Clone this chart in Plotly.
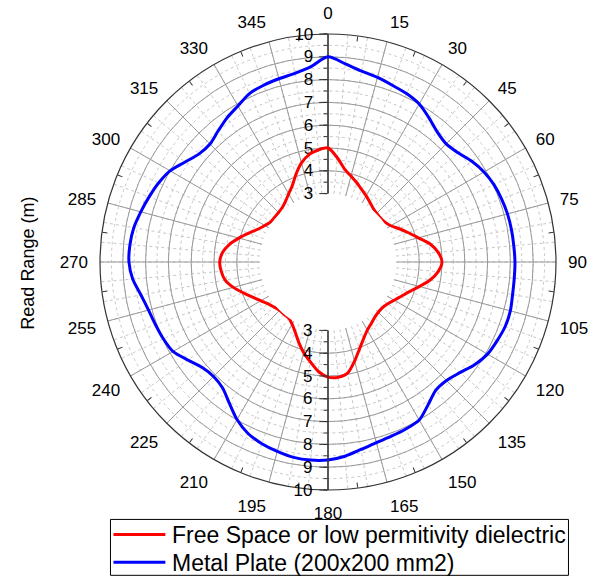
import plotly.graph_objects as go

# ---------------- data ----------------
theta_deg = list(range(0, 361, 5))

free_space = [5.0, 4.6, 4.15, 3.9, 3.7, 3.5, 3.35, 3.2, 3.08, 3.02, 3.0, 3.05, 3.18, 3.45, 3.75, 4.1, 4.55, 4.85,
              5.0, 4.85, 4.55, 4.15, 3.8, 3.55, 3.35, 3.2, 3.12, 3.12, 3.18, 3.3, 3.45, 3.7, 4.05, 4.5, 4.95, 5.08,
              5.05, 4.82, 4.45, 4.12, 3.75, 3.4, 3.15, 3.0, 2.97, 3.0, 3.08, 3.2, 3.4, 3.65, 3.95, 4.3, 4.58, 4.7,
              4.75, 4.65, 4.4, 4.05, 3.7, 3.4, 3.2, 3.07, 3.05, 3.07, 3.12, 3.25, 3.45, 3.7, 4.1, 4.5, 4.78, 4.93,
              5.0]

metal_plate = [9.0, 8.72, 8.5, 8.38, 8.25, 8.15, 8.0, 7.72, 7.45, 7.33, 7.45, 7.7, 7.9, 8.03, 8.1, 8.15, 8.17, 8.18,
               8.2, 8.2, 8.22, 8.28, 8.27, 8.18, 8.08, 7.85, 7.55, 7.35, 7.35, 7.65, 8.0, 8.08, 8.13, 8.2, 8.35, 8.55,
               8.68, 8.72, 8.7, 8.6, 8.48, 8.3, 7.98, 7.55, 7.2, 7.1, 7.2, 7.5, 7.85, 7.97, 8.05, 8.15, 8.33, 8.6,
               8.73, 8.72, 8.65, 8.5, 8.35, 8.2, 8.0, 7.65, 7.38, 7.32, 7.5, 7.72, 7.9, 8.15, 8.25, 8.32, 8.4, 8.6,
               9.0]

series_names = ["Free Space or low permitivity dielectric", "Metal Plate (200x200 mm2)"]
series_colors = ["#ff0000", "#0000ff"]

angle_ticks = list(range(0, 360, 15))
angle_minor = [a + 7.5 for a in angle_ticks]
radial_major = list(range(3, 11))
radial_minor = [3 + 0.5 * i for i in range(15)]
r_range = [3, 10]
axis_title = "Read Range (m)"

FONT = "Arial, Liberation Sans, sans-serif"
N_POLAR = 7

W, H = 602, 578
ML, MR, MT, MB = 99.5, 45.5, 33.5, 87.5
PW, PH = W - ML - MR, H - MT - MB


def px_x(x):
    return (x - ML) / PW


def px_y(y):
    return (H - MB - y) / PH


fig = go.Figure()

# invisible placeholder traces so every overlaid polar subplot gets rendered
for k in range(1, N_POLAR):
    sp = "polar" if k == 1 else f"polar{k}"
    fig.add_trace(go.Scatterpolar(r=[r_range[0]], theta=[0], mode="lines", showlegend=False,
                                  hoverinfo="skip", line=dict(color="rgba(0,0,0,0)"), subplot=sp))

for name, vals, col in zip(series_names, [free_space, metal_plate], series_colors):
    fig.add_trace(go.Scatterpolar(
        r=vals, theta=theta_deg, mode="lines", name=name, showlegend=False,
        line=dict(color=col, width=3, shape="spline", smoothing=0.8),
        subplot=f"polar{N_POLAR}"))

dom = dict(x=[0, 1], y=[0, 1])
base_ang = dict(rotation=90, direction="clockwise", showgrid=False, showline=False,
                showticklabels=False, ticks="")
base_rad = dict(range=r_range, showgrid=False, showline=False, showticklabels=False, ticks="")


def polar(bg, ang, rad, hole=0.3):
    a = dict(base_ang); a.update(ang)
    r = dict(base_rad); r.update(rad)
    return dict(domain=dom, hole=hole, bgcolor=bg, angularaxis=a, radialaxis=r)


CLR = "rgba(0,0,0,0)"
AX = "#333333"
tickfont = dict(family=FONT, size=17, color="black")

layout_polars = {
    "polar": polar("white",
                   dict(showgrid=True, dtick=5, tickmode="linear", tick0=0,
                        gridcolor="#c8c8c8", griddash="dot", gridwidth=1),
                   dict(showgrid=True, tickvals=radial_minor, gridcolor="#c8c8c8",
                        griddash="dot", gridwidth=1)),
    "polar2": polar(CLR,
                    dict(showgrid=True, tickvals=angle_ticks, gridcolor="#9a9a9a", gridwidth=1),
                    dict(showgrid=True, tickvals=radial_major[1:-1], gridcolor="#9a9a9a", gridwidth=1)),
    "polar3": polar(CLR,
                    dict(tickvals=angle_ticks, ticktext=[str(a) for a in angle_ticks],
                         showticklabels=True, ticks="outside", ticklen=8, tickcolor=CLR,
                         showline=True, linecolor=AX, linewidth=1.2, tickfont=tickfont),
                    dict(), hole=0),
    "polar4": polar(CLR,
                    dict(tickvals=angle_minor, ticks="inside", ticklen=5, tickcolor=AX),
                    dict(angle=90, side="counterclockwise", tickvals=radial_minor, ticks="outside",
                         ticklen=4, tickcolor=AX)),
    "polar5": polar(CLR, dict(),
                    dict(angle=270, side="clockwise", tickvals=radial_minor, ticks="outside",
                         ticklen=4, tickcolor=AX)),
    "polar6": polar(CLR, dict(),
                    dict(angle=90, side="counterclockwise", tickvals=radial_major, ticks="outside",
                         ticklen=8, tickcolor=AX, showline=True, linecolor=AX,
                         linewidth=1.5, showticklabels=True, tickangle=90, tickfont=tickfont)),
    "polar7": polar(CLR, dict(),
                    dict(angle=270, side="clockwise", tickvals=radial_major, ticks="outside",
                         ticklen=8, tickcolor=AX, showline=True, linecolor=AX,
                         linewidth=1.5, showticklabels=True, tickangle=-90, tickfont=tickfont)),
}

# ---- legend box drawn with shapes + text annotations ----
shapes = [dict(type="rect", xref="paper", yref="paper",
               x0=px_x(110), x1=px_x(569), y0=px_y(576), y1=px_y(520),
               line=dict(color="black", width=1), fillcolor="white", layer="below")]
annotations = [dict(text=axis_title, xref="paper", yref="paper", x=px_x(27), y=px_y(263),
                    xanchor="center", yanchor="middle", textangle=-90, showarrow=False,
                    font=dict(family=FONT, size=18, color="black"))]
row_y = [535, 563]
for name, col, yy in zip(series_names, series_colors, row_y):
    shapes.append(dict(type="line", xref="paper", yref="paper",
                       x0=px_x(113), x1=px_x(165), y0=px_y(yy), y1=px_y(yy),
                       line=dict(color=col, width=3), layer="above"))
    annotations.append(dict(text=name, xref="paper", yref="paper", x=px_x(170), y=px_y(yy + 1),
                            xanchor="left", yanchor="middle", showarrow=False,
                            font=dict(family=FONT, size=23, color="black")))

fig.update_layout(
    width=W, height=H,
    margin=dict(l=ML, r=MR, t=MT, b=MB, autoexpand=False),
    paper_bgcolor="white",
    font=dict(family=FONT, color="black"),
    showlegend=False,
    shapes=shapes,
    annotations=annotations,
    **layout_polars,
)

fig.write_html("out.html")
